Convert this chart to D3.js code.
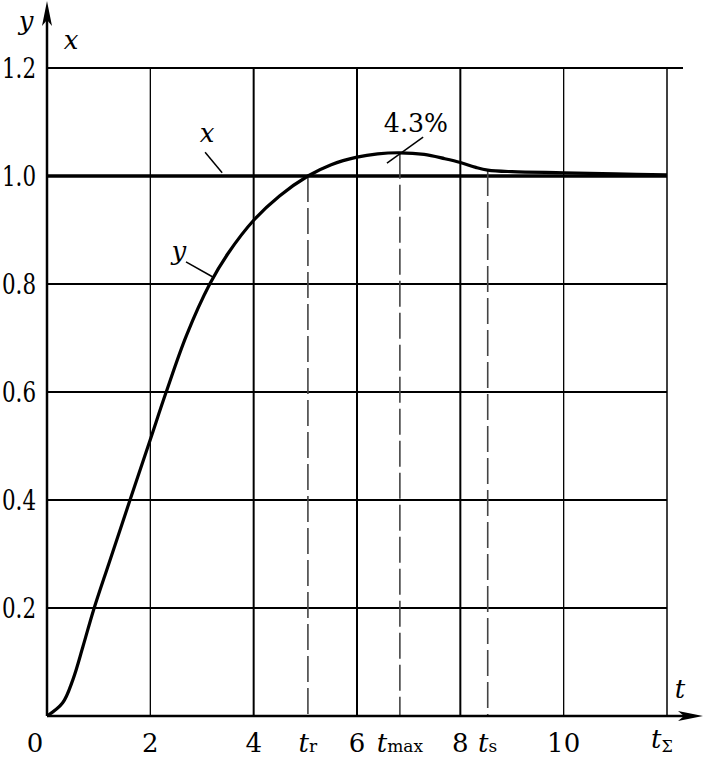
<!DOCTYPE html>
<html>
<head>
<meta charset="utf-8">
<script src="https://cdn.jsdelivr.net/npm/d3@7"></script>
<style>
  body { margin: 0; background: #fff; }
  text { font-family: "DejaVu Serif", serif; fill: #000; }
</style>
</head>
<body>
<svg></svg>
<script>
// response curve y(t)
var tValues = [0, 0.3, 0.5, 0.7, 0.9, 1.2, 1.6, 2.0, 2.3, 2.7, 3.15, 3.5, 4.0, 4.5, 5.05, 5.5, 6.0, 6.4, 6.83, 7.3, 7.7, 8.0, 8.3, 8.53, 9.0, 10.0, 11.0, 12.0];
var yValues = [0, 0.024, 0.067, 0.13, 0.196, 0.283, 0.398, 0.512, 0.598, 0.705, 0.8, 0.856, 0.918, 0.963, 1.0, 1.021, 1.035, 1.041, 1.043, 1.04, 1.032, 1.025, 1.016, 1.011, 1.008, 1.006, 1.004, 1.002];
var setpoint = 1.0;

var xTicks = [2, 4, 6, 8, 10];
var xTickWeight = [1.3, 2, 2, 2, 1.3];
var yTicks = [0.2, 0.4, 0.6, 0.8, 1.0, 1.2];
var yTickLabels = ["0.2", "0.4", "0.6", "0.8", "1.0", "1.2"];

// special times: rise, peak, settling
var markT = [5.05, 6.83, 8.53];
var markY = [1.0, 1.043, 1.011];
var markNames = ["r", "max", "s"];
var tSigma = 12;

var svgWidth = 704, svgHeight = 758;
var svg = d3.select('svg').attr('width', svgWidth).attr('height', svgHeight);

var x = d3.scaleLinear().domain([0, 12]).range([47, 667]);
var y = d3.scaleLinear().domain([0, 1.2]).range([716, 68]);

// horizontal grid
svg.selectAll('.hgrid')
    .data(yTicks)
    .enter()
    .append('line')
    .attr('x1', x(0))
    .attr('x2', function(d) { return d === 1.2 ? 683 : x(tSigma); })
    .attr('y1', function(d) { return y(d); })
    .attr('y2', function(d) { return y(d); })
    .attr('stroke', '#000')
    .attr('stroke-width', function(d) { return d === setpoint ? 3.5 : 2; });

// vertical grid
svg.selectAll('.vgrid')
    .data(xTicks.concat([tSigma]))
    .enter()
    .append('line')
    .attr('x1', function(d) { return x(d); })
    .attr('x2', function(d) { return x(d); })
    .attr('y1', y(0))
    .attr('y2', y(1.2))
    .attr('stroke', '#000')
    .attr('stroke-width', function(d, i) { return i < xTickWeight.length ? xTickWeight[i] : 1.5; });

// dashed markers
svg.selectAll('.mark')
    .data(markT)
    .enter()
    .append('line')
    .attr('x1', function(d) { return x(d); })
    .attr('x2', function(d) { return x(d); })
    .attr('y1', function(d, i) { return y(markY[i]); })
    .attr('y2', y(0))
    .attr('stroke', '#444')
    .attr('stroke-width', 1.6)
    .attr('stroke-dasharray', '26,6');

// response curve
var line = d3.line()
    .x(function(d, i) { return x(tValues[i]); })
    .y(function(d) { return y(d); })
    .curve(d3.curveCatmullRom.alpha(0.5));

svg.append('path')
    .datum(yValues)
    .attr('d', line)
    .attr('fill', 'none')
    .attr('stroke', '#000')
    .attr('stroke-width', 3.2);

// axes with arrows
svg.append('line')
    .attr('x1', x(0)).attr('x2', x(0))
    .attr('y1', y(0)).attr('y2', 14)
    .attr('stroke', '#000').attr('stroke-width', 2.5);
svg.append('path')
    .attr('d', d3.line()([[x(0) - 5, 26], [x(0), 1], [x(0) + 5, 26], [x(0), 20]]))
    .attr('fill', '#000');

svg.append('line')
    .attr('x1', x(0)).attr('x2', 690)
    .attr('y1', y(0)).attr('y2', y(0))
    .attr('stroke', '#000').attr('stroke-width', 2.5);
svg.append('path')
    .attr('d', d3.line()([[678, y(0) - 5], [703, y(0)], [678, y(0) + 5], [684, y(0)]]))
    .attr('fill', '#000');

// y tick labels
svg.selectAll('.ylab')
    .data(yTicks)
    .enter()
    .append('text')
    .attr('x', 36)
    .attr('y', function(d) { return y(d) + 10; })
    .attr('text-anchor', 'end')
    .attr('font-size', '27px')
    .attr('textLength', 34)
    .attr('lengthAdjust', 'spacingAndGlyphs')
    .text(function(d, i) { return yTickLabels[i]; });

// x tick labels
svg.selectAll('.xlab')
    .data([0].concat(xTicks))
    .enter()
    .append('text')
    .attr('x', function(d) { return d === 0 ? x(d) - 12 : x(d); })
    .attr('y', 752)
    .attr('text-anchor', 'middle')
    .attr('font-size', '26px')
    .text(function(d) { return d; });

// t_r, t_max, t_s labels
var tl = svg.selectAll('.tlab')
    .data(markT)
    .enter()
    .append('text')
    .attr('x', function(d) { return x(d); })
    .attr('y', 752)
    .attr('text-anchor', 'middle')
    .attr('font-size', '26px');
tl.append('tspan').attr('font-style', 'italic').text('t');
tl.append('tspan').attr('font-size', '17px').text(function(d, i) { return markNames[i]; });

var ts = svg.append('text')
    .attr('x', x(tSigma) - 5)
    .attr('y', 748)
    .attr('text-anchor', 'middle')
    .attr('font-size', '26px');
ts.append('tspan').attr('font-style', 'italic').text('t');
ts.append('tspan').attr('font-size', '16px').attr('dy', 4).text('Σ');

// axis names
svg.append('text').attr('x', 680).attr('y', 698).attr('font-size', '26px')
    .attr('font-style', 'italic').attr('text-anchor', 'middle').text('t');
svg.append('text').attr('x', 26).attr('y', 30).attr('font-size', '26px')
    .attr('font-style', 'italic').attr('text-anchor', 'middle').text('y');
svg.append('text').attr('x', 71).attr('y', 49).attr('font-size', '26px')
    .attr('font-style', 'italic').attr('text-anchor', 'middle').text('x');

// curve annotations
function leader(t1, v1, t2, v2) {
    svg.append('line')
        .attr('x1', x(t1)).attr('y1', y(v1))
        .attr('x2', x(t2)).attr('y2', y(v2))
        .attr('stroke', '#000').attr('stroke-width', 1.5);
}
leader(3.06, 1.044, 3.39, 1.006);
svg.append('text').attr('x', x(3.1)).attr('y', y(1.063)).attr('font-size', '26px')
    .attr('font-style', 'italic').attr('text-anchor', 'middle').text('x');

leader(2.69, 0.841, 3.21, 0.813);
svg.append('text').attr('x', x(2.55)).attr('y', y(0.845)).attr('font-size', '26px')
    .attr('font-style', 'italic').attr('text-anchor', 'middle').text('y');

leader(6.58, 1.024, 7.28, 1.072);
svg.append('text').attr('x', x(6.52)).attr('y', y(1.081)).attr('font-size', '26px')
    .attr('textLength', 64)
    .attr('lengthAdjust', 'spacingAndGlyphs')
    .text('4.3%');
</script>
</body>
</html>
